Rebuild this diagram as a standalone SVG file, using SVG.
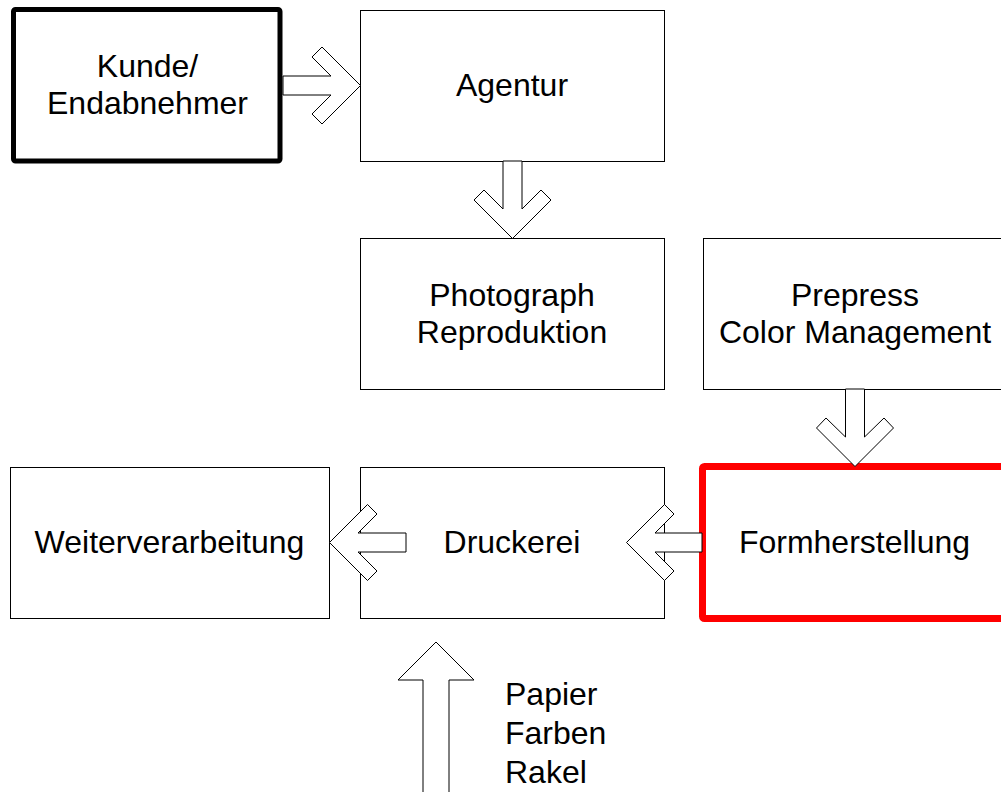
<svg xmlns="http://www.w3.org/2000/svg" width="1001" height="792" viewBox="0 0 1001 792">
<style>
.box{fill:#fff;stroke:#000;stroke-width:1}
.arr{fill:#fff;stroke:#000;stroke-width:1;stroke-linejoin:miter}
text{font-family:"Liberation Sans",Arial,sans-serif;font-size:32px;fill:#000}
.c{text-anchor:middle}
</style>
<rect width="1001" height="792" fill="#fff"/>
<g id="kunde"><rect x="13.5" y="9.5" width="266.5" height="151.5" rx="2" fill="#fff" stroke="#000" stroke-width="5"/>
<text class="c" x="147.5" y="77">Kunde/</text><text class="c" x="147.5" y="114">Endabnehmer</text></g>
<g id="agentur"><rect class="box" x="360.5" y="10.5" width="304" height="151"/>
<text class="c" x="512" y="96">Agentur</text></g>
<g id="photograph"><rect class="box" x="360.5" y="238.5" width="304" height="151"/>
<text class="c" x="512" y="306">Photograph</text><text class="c" x="512" y="343">Reproduktion</text></g>
<g id="prepress"><rect class="box" x="703.5" y="238.5" width="304" height="151"/>
<text class="c" x="855" y="306">Prepress</text><text class="c" x="855" y="343">Color Management</text></g>
<g id="weiterverarbeitung"><rect class="box" x="10.5" y="467.5" width="319" height="151"/>
<text class="c" x="169.5" y="553">Weiterverarbeitung</text></g>
<g id="druckerei"><rect class="box" x="360.5" y="467.5" width="304" height="151"/>
<text class="c" x="512" y="553">Druckerei</text></g>
<g id="formherstellung"><rect x="702.5" y="466.5" width="305" height="152" rx="2" fill="#fff" stroke="#f00" stroke-width="7"/>
<text class="c" x="854.5" y="553">Formherstellung</text></g>
<g id="connectors">
<path class="arr" d="M283,76 L331,76 L312,57 L322,47 L360.5,85.5 L322,124 L312,114 L331,95 L283,95 Z"/>
<path class="arr" d="M503,161 L503,209 L484,190 L474,200 L512.5,238.5 L551,200 L541,190 L522,209 L522,161 Z"/>
<path class="arr" d="M845.5,389 L845.5,437 L826,418 L816.5,428 L855,466.5 L893.5,428 L884,418 L864.5,437 L864.5,389 Z"/>
<path class="arr" d="M406,533 L358,533 L377,514 L367.5,504.5 L329.5,542.5 L367.5,580.5 L377,571 L358,552 L406,552 Z"/>
<path class="arr" d="M702,533 L655,533 L674,514 L664.5,504.5 L626.5,542.5 L664.5,580.5 L674,571 L655,552 L702,552 Z"/>
<path class="arr" d="M423,800 L423,680 L398,680 L436,642 L474,680 L449,680 L449,800"/>
</g>
<g id="label-materials"><text x="505" y="705">Papier</text><text x="505" y="744">Farben</text><text x="505" y="783">Rakel</text></g>
</svg>
